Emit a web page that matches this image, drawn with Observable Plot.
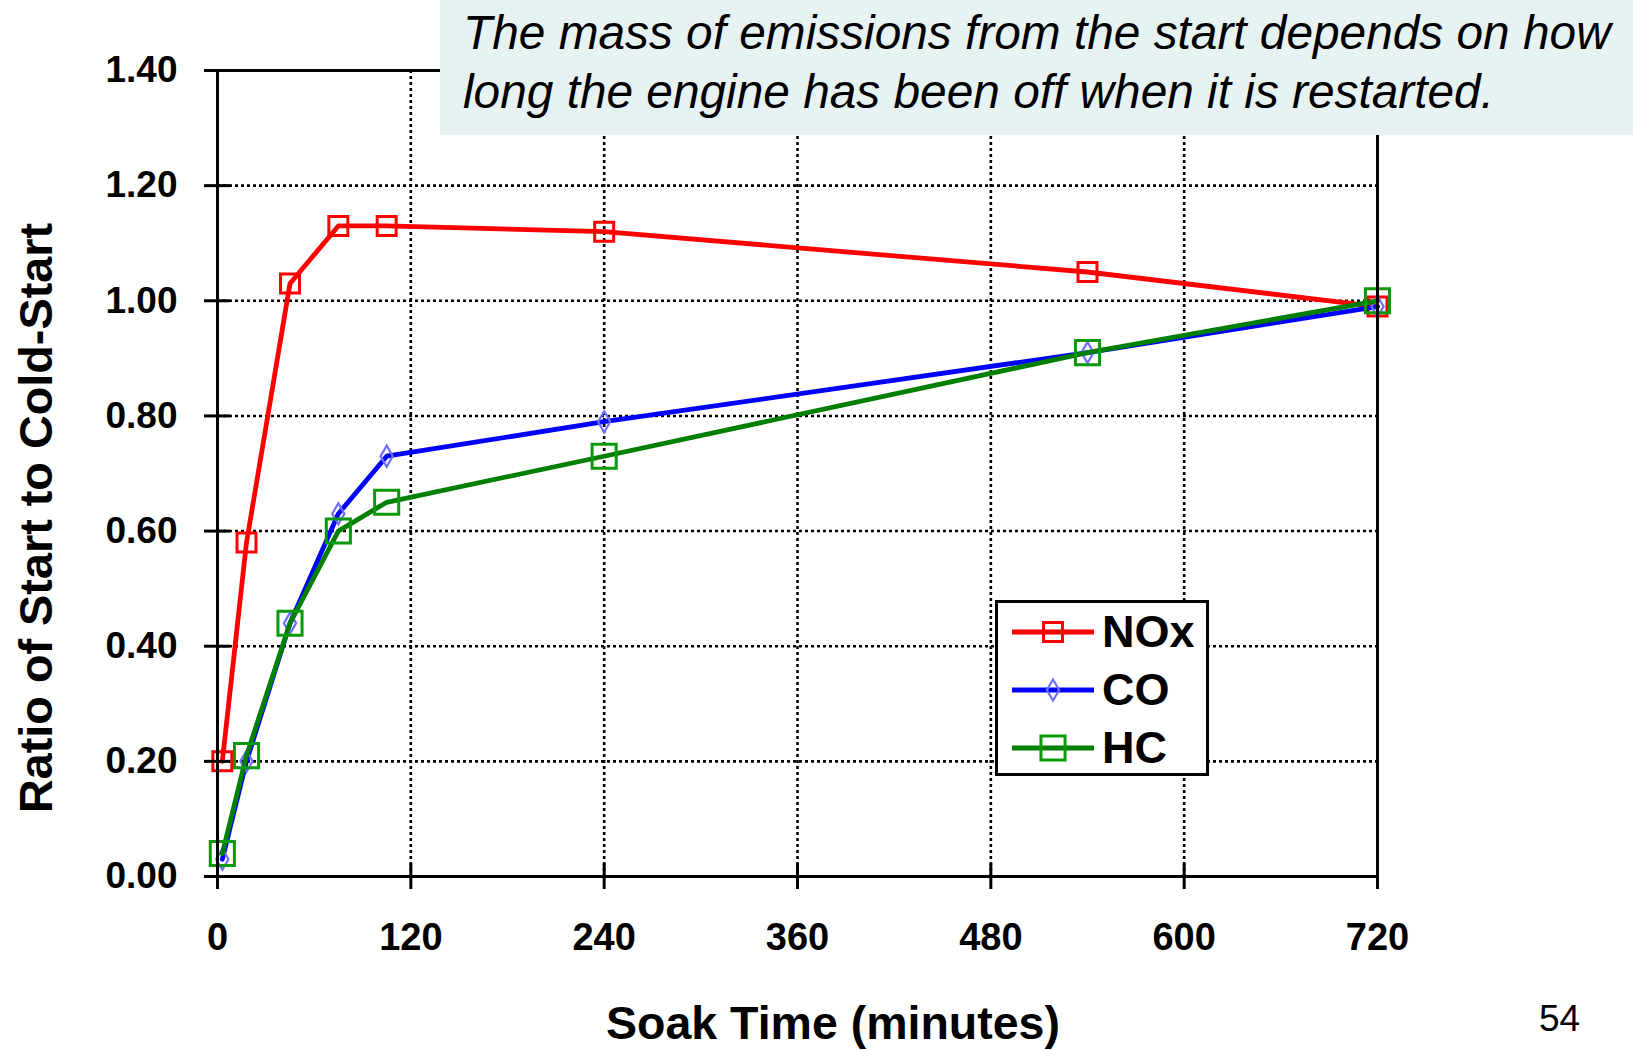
<!DOCTYPE html>
<html>
<head>
<meta charset="utf-8">
<script src="https://cdn.jsdelivr.net/npm/d3@7"></script>
<script src="https://cdn.jsdelivr.net/npm/@observablehq/plot@0.6"></script>
<style>
  html, body { margin: 0; padding: 0; background: #ffffff; }
  #chart { position: relative; width: 1633px; height: 1051px; overflow: hidden; }
  #chart > svg { position: absolute; left: 0; top: 0; display: block; }
</style>
</head>
<body>
<div id="chart"></div>
<script>
// ---- data ----
const soakTime = [3, 18, 45, 75, 105, 240, 540, 720];
const noxRatio = [0.20, 0.58, 1.03, 1.13, 1.13, 1.12, 1.05, 0.99];
const coRatio  = [0.03, 0.20, 0.44, 0.63, 0.73, 0.79, 0.91, 0.99];
const hcRatio  = [0.04, 0.21, 0.44, 0.60, 0.65, 0.73, 0.91, 1.00];
const seriesNames = ["NOx", "CO", "HC"];
const xTicks = [0, 120, 240, 360, 480, 600, 720];
const yTicks = [0, 0.2, 0.4, 0.6, 0.8, 1.0, 1.2, 1.4];
const xGrid = [120, 240, 360, 480, 600];
const yGrid = [0.2, 0.4, 0.6, 0.8, 1.0, 1.2];
const titleLines = ["The mass of emissions from the start depends on how",
                    "long the engine has been off when it is restarted."];
const xTitle = "Soak Time (minutes)";
const yTitle = "Ratio of Start to Cold-Start";
const pageNumber = "54";

// ---- styles ----
const styles = {
  NOx: {line: "#ff0000", marker: "#ff0000", symbol: "square", r: 10.7, mw: 3},
  CO:  {line: "#0000ff", marker: "#6f6fff", symbol: "diamond", r: 6.4, mw: 2.2},
  HC:  {line: "#007f00", marker: "#0a990a", symbol: "square", r: 13.6, mw: 3}
};
const valuesBySeries = {NOx: noxRatio, CO: coRatio, HC: hcRatio};
const FONT = "'Liberation Sans', Arial, Helvetica, sans-serif";

const seriesMarks = seriesNames.flatMap(name => {
  const data = soakTime.map((t, i) => ({t, v: valuesBySeries[name][i]}));
  const s = styles[name];
  return [
    Plot.line(data, {x: "t", y: "v", stroke: s.line, strokeWidth: 4.8}),
    Plot.dot(data, {x: "t", y: "v", symbol: s.symbol, r: s.r, stroke: s.marker, strokeWidth: s.mw, fill: "none"})
  ];
});

const gridStyle = {stroke: "#000", strokeOpacity: 1, strokeWidth: 2.6, strokeDasharray: "3,3"};

const plot = Plot.plot({
  width: 1633,
  height: 1051,
  marginLeft: 217,
  marginRight: 256,
  marginTop: 70,
  marginBottom: 175,
  style: {background: "#ffffff", color: "#000", fontFamily: FONT},
  x: {domain: [0, 720]},
  y: {domain: [0, 1.4]},
  marks: [
    Plot.gridX(xGrid, gridStyle),
    Plot.gridY(yGrid, gridStyle),
    ...seriesMarks,
    Plot.frame({stroke: "#000", strokeWidth: 3}),
    Plot.axisX(xTicks, {tickSize: 26, dy: -13, tickPadding: 34, strokeWidth: 3, label: null,
      fontSize: 38, fontWeight: "bold", fontFamily: FONT, tickFormat: d => String(d)}),
    Plot.axisY(yTicks, {tickSize: 26, dx: 13, tickPadding: 27, strokeWidth: 3, label: null,
      fontSize: 37, fontWeight: "bold", fontFamily: FONT, tickFormat: d3.format(".2f")})
  ]
});

const chart = document.getElementById("chart");
chart.appendChild(plot);

// ---- overlay: title box, axis titles, legend, page number ----
const ov = d3.select(chart).append("svg")
  .attr("width", 1633).attr("height", 1051)
  .style("font-family", FONT);

// title box
ov.append("rect").attr("x", 440).attr("y", 0).attr("width", 1193).attr("height", 135).attr("fill", "#e7f3f3");
ov.selectAll("text.title").data(titleLines).join("text")
  .attr("class", "title")
  .attr("x", 463).attr("y", (d, i) => 49 + i * 59)
  .attr("font-size", 47.8).attr("font-style", "italic").attr("fill", "#000")
  .text(d => d);

// axis titles
ov.append("text").attr("x", 833).attr("y", 1039).attr("text-anchor", "middle")
  .attr("font-size", 46.5).attr("font-weight", "bold").text(xTitle);
ov.append("text").attr("transform", "translate(52,518) rotate(-90)").attr("text-anchor", "middle")
  .attr("font-size", 46.8).attr("font-weight", "bold").text(yTitle);

// legend
const lg = ov.append("g");
lg.append("rect").attr("x", 996.5).attr("y", 601.5).attr("width", 211).attr("height", 173)
  .attr("fill", "#fff").attr("stroke", "#000").attr("stroke-width", 3);
const symMap = {square: d3.symbolSquare, diamond: d3.symbolDiamond};
seriesNames.forEach((name, i) => {
  const s = styles[name];
  const y = 632 + i * 58;
  lg.append("line").attr("x1", 1012).attr("x2", 1094).attr("y1", y).attr("y2", y)
    .attr("stroke", s.line).attr("stroke-width", 5);
  lg.append("path").attr("transform", `translate(1053,${y})`)
    .attr("d", d3.symbol(symMap[s.symbol], Math.PI * s.r * s.r)())
    .attr("fill", "none").attr("stroke", s.marker).attr("stroke-width", s.mw);
  lg.append("text").attr("x", 1102).attr("y", y + 15)
    .attr("font-size", 45).attr("font-weight", "bold").attr("fill", "#000").text(name);
});

// page number
ov.append("text").attr("x", 1539).attr("y", 1031).attr("font-size", 37).attr("fill", "#000").text(pageNumber);
</script>
</body>
</html>
